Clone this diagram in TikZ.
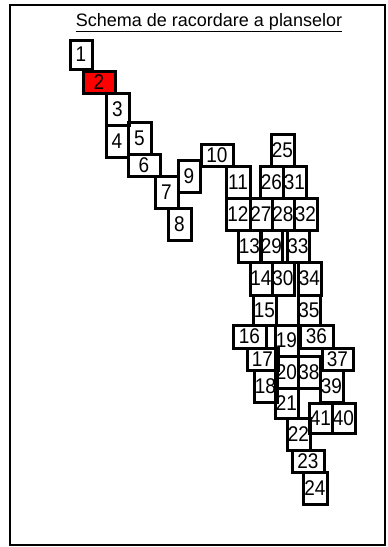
\documentclass[tikz,border=0pt]{standalone}
\usepackage{fontspec}
\setmainfont{Liberation Sans}
\tikzset{pb/.style={draw, line width=3pt, inner sep=0pt, font=\fontsize{19}{19}\selectfont}}
\newcommand\plbox[7][]{%
 \pgfmathsetmacro\pw{#5-#3}\pgfmathsetmacro\ph{#6-#4}%
 \pgfmathsetmacro\pcx{(#3+#5)/2}\pgfmathsetmacro\pcy{(#4+#6)/2}%
 \node[pb,#1,minimum width=\pw pt,minimum height=\ph pt] (#2) at (\pcx pt,-\pcy pt) {\scalebox{1}[1.12]{#7}};}
\begin{document}
\begin{tikzpicture}
\useasboundingbox (0,0) rectangle (388pt,-547pt);
\draw[line width=1.6pt] (10pt,-5pt) rectangle (385pt,-545pt);
\node[font=\fontsize{18}{18}\selectfont, anchor=base] (title) at (209pt,-26pt) {\underline{Schema de racordare a planselor}};
\plbox{b1}{70}{40}{92}{69}{1}
\plbox[fill=red]{b2}{83}{71}{115}{93}{2}
\plbox{b3}{106}{93}{129}{125}{3}
\plbox{b4}{106}{125}{128}{157}{4}
\plbox{b5}{128}{122}{151}{154}{5}
\plbox{b6}{128}{154}{160}{176}{6}
\plbox{b7}{155}{176}{178}{208}{7}
\plbox{b8}{168}{208}{191}{240}{8}
\plbox{b9}{178}{160}{200}{192}{9}
\plbox{b10}{201}{144}{233}{166}{10}
\plbox{b11}{226}{166}{250}{198}{11}
\plbox{b12}{226}{198}{250}{230}{12}
\plbox{b25}{271}{134}{294}{166}{25}
\plbox{b26}{260}{166}{283}{198}{26}
\plbox{b31}{283}{166}{306}{198}{31}
\plbox{b27}{250}{198}{272}{230}{27}
\plbox{b28}{272}{198}{294}{230}{28}
\plbox{b32}{294}{198}{317}{230}{32}
\plbox{b13}{238}{230}{261}{262}{13}
\plbox{b29}{261}{230}{282}{262}{29}
\plbox{b33}{287}{230}{309}{262}{33}
\plbox{b14}{250}{262}{272}{295}{14}
\plbox{b30}{272}{262}{294}{295}{30}
\plbox{b34}{298}{262}{321}{295}{34}
\plbox{b15}{253}{295}{276}{325}{15}
\plbox{b35}{298}{295}{320}{325}{35}
\plbox{b16}{233}{325}{266}{348}{16}
\plbox{b19}{275}{325}{298}{356}{19}
\plbox{b36}{300}{325}{333}{348}{36}
\plbox{b17}{247}{348}{278}{370}{17}
\plbox{b37}{322}{348}{353}{370}{37}
\plbox{b20}{275}{356}{298}{388}{20}
\plbox{b38}{298}{356}{320}{388}{38}
\plbox{b18}{254}{370}{277}{402}{18}
\plbox{b39}{320}{370}{343}{402}{39}
\plbox{b21}{275}{388}{298}{418}{21}
\plbox{b41}{309}{403}{332}{433}{41}
\plbox{b40}{332}{403}{355}{433}{40}
\plbox{b22}{287}{418}{310}{450}{22}
\plbox{b23}{292}{450}{324}{472}{23}
\plbox{b24}{303}{472}{327}{504}{24}
\end{tikzpicture}
\end{document}
